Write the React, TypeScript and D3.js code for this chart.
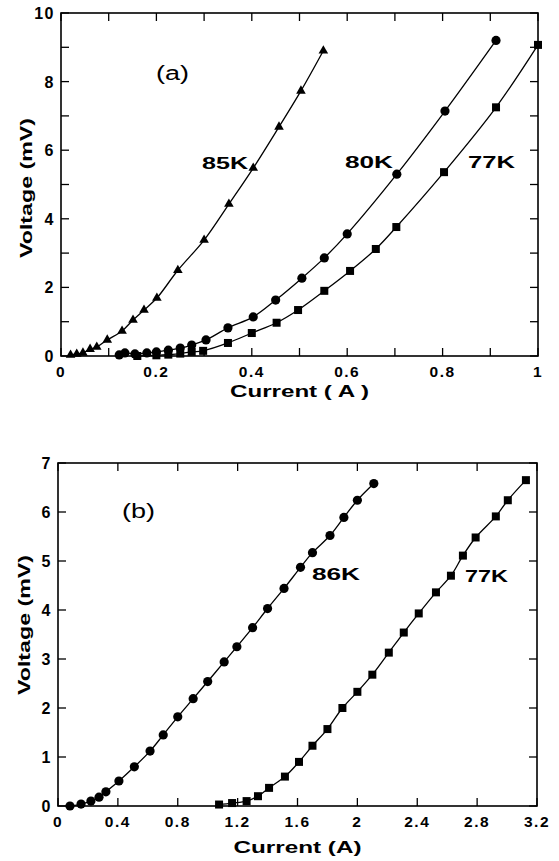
import React from 'react';
import * as d3 from 'd3';

// panel (a) data: [current (A), voltage (mV)]
const a85K: [number, number][] = [
  [0.02, 0.03], [0.033, 0.06], [0.046, 0.09], [0.061, 0.2], [0.075, 0.26],
  [0.097, 0.47], [0.128, 0.73], [0.151, 1.05], [0.174, 1.34], [0.201, 1.69],
  [0.245, 2.5], [0.3, 3.38], [0.352, 4.43], [0.403, 5.48], [0.457, 6.68],
  [0.503, 7.73], [0.55, 8.9],
];
const a80K: [number, number][] = [
  [0.122, 0.03], [0.134, 0.09], [0.155, 0.06], [0.18, 0.09], [0.2, 0.12],
  [0.225, 0.17], [0.25, 0.23], [0.274, 0.32], [0.304, 0.47], [0.35, 0.82],
  [0.403, 1.14], [0.45, 1.63], [0.505, 2.27], [0.552, 2.86], [0.6, 3.56],
  [0.704, 5.3], [0.805, 7.14], [0.912, 9.2],
];
const a77K: [number, number][] = [
  [0.16, 0.0], [0.2, 0.02], [0.225, 0.04], [0.25, 0.07], [0.274, 0.12],
  [0.298, 0.15], [0.35, 0.38], [0.4, 0.67], [0.452, 0.97], [0.497, 1.34],
  [0.552, 1.9], [0.606, 2.48], [0.66, 3.12], [0.703, 3.76], [0.803, 5.36],
  [0.912, 7.25], [1.0, 9.07],
];

// panel (b) data
const b86K: [number, number][] = [
  [0.08, 0.0], [0.154, 0.04], [0.22, 0.1], [0.274, 0.18], [0.32, 0.29],
  [0.407, 0.51], [0.51, 0.8], [0.615, 1.12], [0.703, 1.45], [0.8, 1.82],
  [0.903, 2.19], [1.0, 2.54], [1.11, 2.94], [1.195, 3.25], [1.3, 3.64],
  [1.4, 4.03], [1.51, 4.44], [1.62, 4.87], [1.7, 5.17], [1.817, 5.52],
  [1.91, 5.89], [2.0, 6.24], [2.11, 6.58],
];
const b77K: [number, number][] = [
  [1.076, 0.03], [1.163, 0.06], [1.26, 0.1], [1.336, 0.2], [1.41, 0.37],
  [1.516, 0.6], [1.61, 0.9], [1.7, 1.23], [1.8, 1.57], [1.9, 2.0],
  [2.0, 2.33], [2.1, 2.68], [2.21, 3.13], [2.31, 3.54], [2.41, 3.93],
  [2.525, 4.36], [2.625, 4.7], [2.705, 5.11], [2.79, 5.48], [2.925, 5.91],
  [3.005, 6.24], [3.126, 6.65],
];

const aXLabels = [0, 0.2, 0.4, 0.6, 0.8, 1];
const aYLabels = [0, 2, 4, 6, 8, 10];
const bXLabels = [0, 0.4, 0.8, 1.2, 1.6, 2, 2.4, 2.8, 3.2];
const bYLabels = [0, 1, 2, 3, 4, 5, 6, 7];

const font = '"Liberation Sans", Arial, sans-serif';

function Marker({ kind, x, y }: { kind: string; x: number; y: number }) {
  if (kind === 'circle') return <circle cx={x} cy={y} r={4.6} fill="#000" />;
  if (kind === 'square') return <rect x={x - 4} y={y - 4} width={8} height={8} fill="#000" />;
  const s = d3.symbol().type(d3.symbolTriangle).size(40)();
  return <path d={s || ''} transform={`translate(${x},${y})`} fill="#000" />;
}

function Panel(props: {
  x0: number; x1: number; yTop: number; yBot: number;
  xMax: number; yMax: number; xTickStep: number;
  xLabels: number[]; yLabels: number[];
  series: { data: [number, number][]; kind: string }[];
  notes: { text: string; x: number; y: number; w: number }[];
  tag: string; tagX: number; tagY: number;
  xTitleY: number; xTitleW: number; yTitleX: number; yTitleY: number;
  xTitle: string;
}) {
  const { x0, x1, yTop, yBot } = props;
  const x = d3.scaleLinear().domain([0, props.xMax]).range([x0, x1]);
  const y = d3.scaleLinear().domain([0, props.yMax]).range([yBot, yTop]);
  const line = d3.line<[number, number]>()
    .x(d => x(d[0])).y(d => y(d[1]))
    .curve(d3.curveCatmullRom.alpha(0.5));
  const xTicks = d3.range(0, props.xMax + 1e-9, props.xTickStep);
  const yTicks = d3.range(0, props.yMax + 1e-9, 1);
  const tl = 8;
  return (
    <g>
      <rect x={x0} y={yTop} width={x1 - x0} height={yBot - yTop} fill="none" stroke="#000" strokeWidth={1.6} />
      {xTicks.map((t, i) => (
        <g key={'xt' + i}>
          <line x1={x(t)} x2={x(t)} y1={yBot} y2={yBot - tl} stroke="#000" strokeWidth={1.3} />
          <line x1={x(t)} x2={x(t)} y1={yTop} y2={yTop + tl} stroke="#000" strokeWidth={1.3} />
        </g>
      ))}
      {yTicks.map((t, i) => (
        <g key={'yt' + i}>
          <line x1={x0} x2={x0 + tl} y1={y(t)} y2={y(t)} stroke="#000" strokeWidth={1.3} />
          <line x1={x1} x2={x1 - tl} y1={y(t)} y2={y(t)} stroke="#000" strokeWidth={1.3} />
        </g>
      ))}
      {props.xLabels.map((t, i) => (
        <text key={'xl' + i} x={x(t)} y={yBot + 21} textAnchor="middle" fontSize={15.5}
          fontWeight="bold" letterSpacing={1.5} fontFamily={font}>{String(t)}</text>
      ))}
      {props.yLabels.map((t, i) => (
        <text key={'yl' + i} x={x0 - 6} y={y(t) + 6} textAnchor="end" fontSize={16}
          fontWeight="bold" letterSpacing={1.5} fontFamily={font}>{String(t)}</text>
      ))}
      {props.series.map((s, i) => (
        <g key={'s' + i}>
          <path d={line(s.data) || ''} fill="none" stroke="#000" strokeWidth={1.3} />
          {s.data.map((d, j) => <Marker key={j} kind={s.kind} x={x(d[0])} y={y(d[1])} />)}
        </g>
      ))}
      {props.notes.map((n, i) => (
        <text key={'n' + i} x={n.x} y={n.y} fontSize={17} fontWeight="bold" fontFamily={font}
          textLength={n.w} lengthAdjust="spacingAndGlyphs">{n.text}</text>
      ))}
      <text x={props.tagX} y={props.tagY} fontSize={20} fontFamily={font}
        textLength={33} lengthAdjust="spacingAndGlyphs">{props.tag}</text>
      <text x={(x0 + x1) / 2} y={props.xTitleY} textAnchor="middle" fontSize={16.5} fontWeight="bold"
        fontFamily={font} textLength={props.xTitleW} lengthAdjust="spacingAndGlyphs">{props.xTitle}</text>
      <text transform={`translate(${props.yTitleX},${props.yTitleY}) rotate(-90)`} textAnchor="middle"
        fontSize={17} fontWeight="bold" fontFamily={font} textLength={140}
        lengthAdjust="spacingAndGlyphs">Voltage (mV)</text>
    </g>
  );
}

export default function App() {
  return (
    <svg width={559} height={861} style={{ position: 'absolute', left: 0, top: 0, background: '#fff' }}>
      <Panel x0={61} x1={538} yTop={13} yBot={356} xMax={1} yMax={10} xTickStep={0.1}
        xLabels={aXLabels} yLabels={aYLabels}
        series={[{ data: a85K, kind: 'triangle' }, { data: a80K, kind: 'circle' }, { data: a77K, kind: 'square' }]}
        notes={[{ text: '85K', x: 202, y: 169, w: 46 }, { text: '80K', x: 345, y: 168, w: 48 }, { text: '77K', x: 468, y: 168, w: 47 }]}
        tag="(a)" tagX={156} tagY={80}
        xTitleY={397} xTitleW={139} yTitleX={32} yTitleY={188} xTitle="Current ( A )" />
      <Panel x0={58} x1={537} yTop={463} yBot={806} xMax={3.2} yMax={7} xTickStep={0.4}
        xLabels={bXLabels} yLabels={bYLabels}
        series={[{ data: b86K, kind: 'circle' }, { data: b77K, kind: 'square' }]}
        notes={[{ text: '86K', x: 312, y: 580, w: 48 }, { text: '77K', x: 465, y: 582, w: 43 }]}
        tag="(b)" tagX={122} tagY={518}
        xTitleY={853} xTitleW={128} yTitleX={30} yTitleY={625} xTitle="Current (A)" />
    </svg>
  );
}
